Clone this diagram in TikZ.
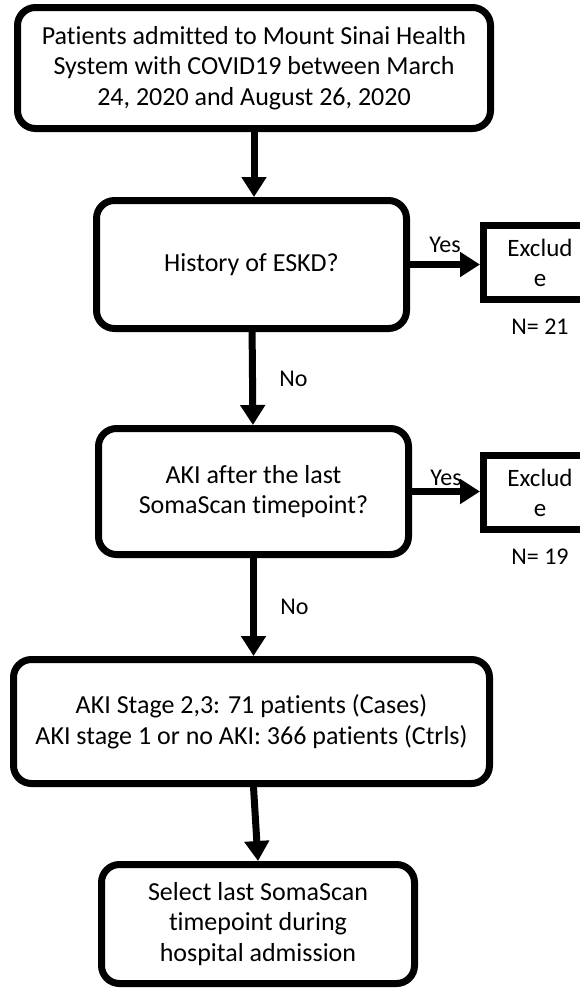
\documentclass[tikz,border=0pt]{standalone}
\usepackage{fontspec}
\setmainfont{Carlito}[Ligatures=NoCommon]
\usetikzlibrary{arrows.meta,positioning}

\begin{document}
\begin{tikzpicture}[x=1pt,y=-1pt,
    box/.style={draw, line width=7pt, rounded corners=18pt, align=center, inner sep=0pt,
      font=\fontsize{26}{30.5}\selectfont},
    exclbox/.style={draw, line width=7pt, align=center, inner sep=0pt, minimum width=113pt, minimum height=74pt,
      font=\fontsize{25}{30}\selectfont},
    arr/.style={line width=7pt, -{Triangle[width=24pt,length=20pt]}},
    every node/.style={font=\fontsize{24}{30}\selectfont}]
      \fill[white] (0,0) rectangle (580,994);
      \useasboundingbox (0,0) rectangle (580,994);
      \node[box, minimum width=473pt, minimum height=121pt] (patients) at (254,68)
        {Patients admitted to Mount Sinai Health\\System with COVID19 between March\\24, 2020 and August 26, 2020};
      \node[box, minimum width=310pt, minimum height=128pt] (eskd) at (251.5,264.5) {History of ESKD?};
      \node[box, minimum width=310pt, minimum height=126pt] (aki) at (253.5,491.5)
        {AKI after the last\\SomaScan timepoint?};
      \node[box, minimum width=476pt, minimum height=124pt] (groups) at (251.5,721.5)
        {AKI Stage 2,3: 71 patients (Cases)\\AKI stage 1 or no AKI: 366 patients (Ctrls)};
      \node[box, minimum width=313pt, minimum height=119pt] (select) at (258,924)
        {Select last SomaScan\\timepoint during\\hospital admission};
      \node[exclbox] (excl1) at (540,262.5) {Exclud\\e};
      \node[exclbox] (excl2) at (540,492.5) {Exclud\\e};
      \node[below=12pt of excl1] (n1) {N= 21};
      \node[below=12pt of excl2] (n2) {N= 19};
      \draw[arr] (patients.south) -- (patients.south |- eskd.north);
      \draw[arr] (eskd) -- node[right=20pt] {No} (aki);
      \draw[arr] (aki) -- node[right=20pt] {No} (aki |- groups.north);
      \draw[arr] ([xshift=2pt]groups.south) -- (select.north);
      \draw[arr] (eskd.east) -- node[above=5pt] {Yes} (eskd.east -| excl1.west);
      \draw[arr] (aki.east) -- node[above=-1pt] {Yes} (aki.east -| excl2.west);
    \end{tikzpicture}
\end{document}
